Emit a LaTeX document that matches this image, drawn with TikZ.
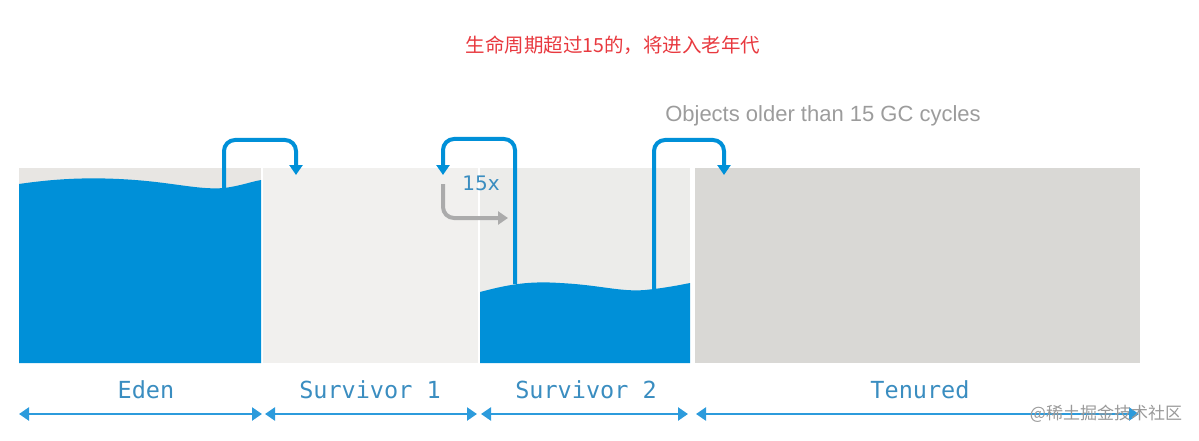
\documentclass[tikz,border=0pt]{standalone}
\usepackage{fontspec}
\usepackage{xcolor}
\usepackage{tikz}
\usetikzlibrary{arrows.meta, positioning}

\newfontfamily\cjk{Noto Sans CJK SC}
\newfontfamily\labelfont{DejaVu Sans Mono}
\newfontfamily\notefont{Liberation Sans}
\newfontfamily\countfont{DejaVu Sans}

\definecolor{water}{HTML}{0090D8}
\definecolor{edenbg}{HTML}{E8E6E3}
\definecolor{survbg}{HTML}{F1F0EE}
\definecolor{tenbg}{HTML}{D9D8D5}
\definecolor{labelblue}{HTML}{3A8DC0}
\definecolor{dimblue}{HTML}{2C9BDC}
\definecolor{titlered}{HTML}{E8393F}
\definecolor{notegray}{HTML}{9C9C9C}

\tikzset{
	space/.style = {inner sep = 0, outer sep = 0, anchor = north west},
	flow/.style = {line width = 4pt, rounded corners = 11pt, -{Triangle[width = 13pt, length = 10pt]}},
	dimline/.style = {line width = 2.4pt, dimblue, {Triangle[width = 13pt, length = 10pt]}-{Triangle[width = 13pt, length = 10pt]}},
	spacename/.style = {labelblue, font = \labelfont\fontsize{23.5}{26}\selectfont}
}

\begin{document}
\begin{tikzpicture}[x = 1pt, y = -1pt]
	\def\top{168};
	\def\bot{363};
	\def\dimY{414};

	\useasboundingbox (0,0) rectangle (1199,441);

	% the four spaces
	\begin{scope}
		\node [space, fill = edenbg, minimum width = 242pt, minimum height = 195pt] (eden) at (19,\top) {};
		\node [space, fill = survbg, minimum width = 215pt, minimum height = 195pt] (surv1) at (263,\top) {};
		\node [space, fill = survbg!96!gray, minimum width = 210pt, minimum height = 195pt] (surv2) at (480,\top) {};
		\node [space, fill = tenbg, minimum width = 445pt, minimum height = 195pt] (tenured) at (695,\top) {};
	\end{scope}

	% objects in eden and survivor 2
	\begin{scope}
		\fill [water] (19,\bot) -- (19,184) .. controls (60,178) and (95,177) .. (135,180)
			.. controls (175,183) and (200,190) .. (224,188)
			.. controls (240,186) and (250,182) .. (261,180) -- (261,\bot) -- cycle;
		\fill [water] (480,\bot) -- (480,292) .. controls (510,284) and (530,281) .. (560,283)
			.. controls (600,285) and (620,292) .. (645,290)
			.. controls (665,288) and (680,285) .. (690,283) -- (690,\bot) -- cycle;
	\end{scope}

	\coordinate (edenout) at (224,189);
	\coordinate (surv1in) at (296,175);
	\coordinate (surv2out) at (515,284);
	\coordinate (surv2back) at (443,175);
	\coordinate (copyfrom) at (443,184);
	\coordinate (copyto) at (508,218);
	\coordinate (oldout) at (654,289);
	\coordinate (tenin) at (724,175);

	% moves between the spaces
	\begin{scope}[water]
		\draw [flow] (edenout) |- (260,140) -| (surv1in);
		\draw [flow] (surv2out) |- (480,139) -| (surv2back);
		\draw [flow] (oldout) |- (690,140) -| (tenin);
		\draw [flow, notegray!85] (copyfrom) |- (copyto);
	\end{scope}

	\node [labelblue, font = \countfont\fontsize{20}{22}\selectfont] (count) at (481,183) {15x};
	\node [notegray, font = \notefont\fontsize{22}{24}\selectfont] (note) at (823,116) {Objects older than 15 GC cycles};
	\node [titlered, font = \cjk\fontsize{19.5}{22}\selectfont] (title) at (613,45) {生命周期超过15的，将进入老年代};

	% names and sizes of the spaces
	\begin{scope}
		\node [spacename] (edenname) at (146,390) {Eden};
		\node [spacename] (surv1name) at (370,390) {Survivor 1};
		\node [spacename] (surv2name) at (586,390) {Survivor 2};
		\node [spacename] (tenname) at (920,390) {Tenured};

		\draw [dimline] (19,\dimY) -- (262,\dimY);
		\draw [dimline] (265,\dimY) -- (477,\dimY);
		\draw [dimline] (481,\dimY) -- (688,\dimY);
		\draw [dimline] (696,\dimY) -- (1139,\dimY);
	\end{scope}

	\node [gray!80, font = \cjk\fontsize{17}{20}\selectfont] (mark) at (1106,414) {@稀土掘金技术社区};
\end{tikzpicture}
\end{document}
